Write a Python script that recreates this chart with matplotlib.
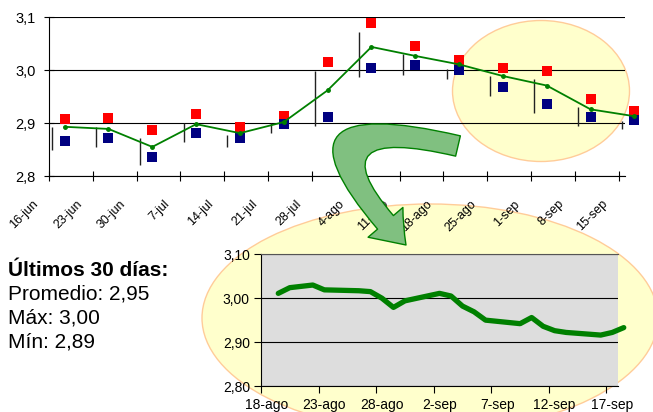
import numpy as np
import pandas as pd
import matplotlib
matplotlib.use("Agg")
import matplotlib.pyplot as plt
import matplotlib.dates as mdates
import matplotlib.transforms as mtransforms
from matplotlib.patches import Ellipse, FancyArrowPatch, ArrowStyle
from matplotlib.path import Path

plt.rcParams['font.family'] = ['Liberation Sans', 'DejaVu Sans']

# ---- datos semanales (grafico superior) ----
semanas = ['16-jun', '23-jun', '30-jun', '7-jul', '14-jul', '21-jul', '28-jul',
           '4-ago', '11-ago', '18-ago', '25-ago', '1-sep', '8-sep', '15-sep']
maximo = [2.908, 2.909, 2.887, 2.918, 2.892, 2.914, 3.016,
          3.089, 3.046, 3.019, 3.005, 2.999, 2.946, 2.923]
minimo = [2.866, 2.872, 2.836, 2.882, 2.871, 2.898, 2.912,
          3.005, 3.009, 3.000, 2.969, 2.937, 2.911, 2.906]
promedio = [2.893, 2.889, 2.855, 2.898, 2.881, 2.902, 2.962,
            3.044, 3.027, 3.011, 2.989, 2.971, 2.926, 2.913]
rango_alto = [2.893, 2.893, 2.872, 2.900, 2.878, 2.900, 2.999,
              3.073, 3.031, 3.002, 2.989, 2.983, 2.930, 2.904]
rango_bajo = [2.849, 2.855, 2.821, 2.864, 2.855, 2.881, 2.895,
              2.988, 2.991, 2.983, 2.951, 2.919, 2.895, 2.889]

# ---- ultimos 30 dias (grafico pequeño) ----
dias_fechas = pd.bdate_range('2002-08-19', '2002-09-18')
dias_valor = [3.011, 3.024, 3.027, 3.030, 3.019,
              3.017, 3.015, 3.000, 2.979, 2.994,
              3.011, 3.005, 2.982, 2.969, 2.950,
              2.942, 2.956, 2.936, 2.926, 2.922,
              2.916, 2.922, 2.933]
dias_etiquetas = ['18-ago', '23-ago', '28-ago', '2-sep', '7-sep', '12-sep', '17-sep']

W, H = 653, 412
fig = plt.figure(figsize=(W / 100, H / 100), dpi=100)


def fx(px):
    return px / W


def fy(py):
    return 1 - py / H


# elipses de fondo
fig.add_artist(Ellipse((fx(541), fy(91)), 177 / W, 141 / H, transform=fig.transFigure,
                       fc='#FFFFCC', ec='#FFCC99', lw=1, zorder=-1))
fig.add_artist(Ellipse((fx(430), fy(318)), 456 / W, 228 / H, transform=fig.transFigure,
                       fc='#FFFFCC', ec='#FFCC99', lw=1, zorder=-1))

# ---- grafico superior ----
ax = fig.add_axes([fx(49), fy(176), 576 / W, (176 - 17.3) / H])
ax.set_facecolor('none')

inicio = pd.Timestamp('2002-06-16')
ticks = mdates.date2num(pd.date_range(inicio, periods=len(semanas), freq='7D'))
x_rango = ticks + 0.5
x_precio = mdates.date2num(pd.date_range(inicio + pd.Timedelta(days=2), periods=len(semanas), freq='7D')) + 0.5

ax.vlines(x_rango, rango_bajo, rango_alto, color='#222222', lw=1.0, zorder=2)
ax.plot(x_precio, maximo, 's', color='#FF0000', ms=7, mew=0, clip_on=False, zorder=3)
ax.plot(x_precio, minimo, 's', color='#000080', ms=7, mew=0, clip_on=False, zorder=4)
ax.plot(x_precio, promedio, '-o', color='#008000', lw=1.3, ms=2.5, clip_on=False, zorder=5)

ax.set_xlim(ticks[0], ticks[0] + 92)
ax.set_ylim(2.8, 3.1)
ax.set_yticks([2.8, 2.9, 3.0, 3.1])
ax.set_yticklabels(['2,8', '2,9', '3,0', '3,1'], fontsize=10.5)
ax.set_xticks(ticks)
ax.set_xticklabels([])
ax.tick_params(direction='inout', length=7, width=0.8, color='black', pad=6)
ax.yaxis.grid(True, color='black', lw=0.8)
for s in ['top', 'right']:
    ax.spines[s].set_visible(False)
for s in ['left', 'bottom']:
    ax.spines[s].set_linewidth(0.8)

trans = mtransforms.offset_copy(mtransforms.blended_transform_factory(ax.transData, ax.transAxes),
                                fig=fig, x=-17, y=-22, units='dots')
for t, lab in zip(ticks, semanas):
    ax.text(t, 0, lab, transform=trans, rotation=45, ha='right', va='top',
            rotation_mode='anchor', fontsize=9, clip_on=False)

# ---- texto resumen ----
fig.text(fx(8), fy(276), 'Últimos 30 días:', fontsize=15, fontweight='bold', va='baseline')
fig.text(fx(8), fy(300), 'Promedio: 2,95', fontsize=15, va='baseline')
fig.text(fx(8), fy(324), 'Máx: 3,00', fontsize=15, va='baseline')
fig.text(fx(8), fy(348), 'Mín: 2,89', fontsize=15, va='baseline')

# ---- grafico pequeño ----
ax2 = fig.add_axes([fx(261), fy(386), 357 / W, (386 - 254.3) / H])
ax2.set_facecolor('#DDDDDD')
d0 = pd.Timestamp('2002-08-18')
x_dias = mdates.date2num(dias_fechas) + 0.5
ax2.plot(x_dias, dias_valor, color='#008000', lw=3.8, solid_joinstyle='round',
         solid_capstyle='round', clip_on=False, zorder=3)
t2 = mdates.date2num(pd.date_range(d0, periods=len(dias_etiquetas), freq='5D'))
ax2.set_xlim(mdates.date2num(d0), mdates.date2num(d0) + 31)
ax2.set_ylim(2.80, 3.10)
ax2.set_yticks([2.80, 2.90, 3.00, 3.10])
ax2.set_yticklabels(['2,80', '2,90', '3,00', '3,10'], fontsize=10)
ax2.set_xticks(t2)
ax2.set_xticklabels([])
ax2.set_xticks(t2 + 0.5, minor=True)
ax2.set_xticklabels(dias_etiquetas, minor=True, fontsize=10)
ax2.tick_params(which='major', direction='out', length=5, width=0.8, pad=3)
ax2.tick_params(which='minor', length=0, pad=8.5)
ax2.yaxis.grid(True, color='black', lw=0.8)
ax2.spines['right'].set_visible(False)
ax2.spines['top'].set_color('#555555')
for s in ['left', 'bottom']:
    ax2.spines[s].set_linewidth(0.8)

# ---- flecha curva ----
S = (fx(458), fy(146))
C = (fx(270), fy(102))
E = (fx(406), fy(245))
flecha = FancyArrowPatch(path=Path([S, C, E], [Path.MOVETO, Path.CURVE3, Path.CURVE3]),
                         transform=fig.transFigure,
                         arrowstyle=ArrowStyle.Simple(head_length=22, head_width=33, tail_width=15),
                         mutation_scale=1, fc='#80C080', ec='#008000', lw=1, zorder=5)
fig.add_artist(flecha)

fig.savefig('out.png', dpi=100)
